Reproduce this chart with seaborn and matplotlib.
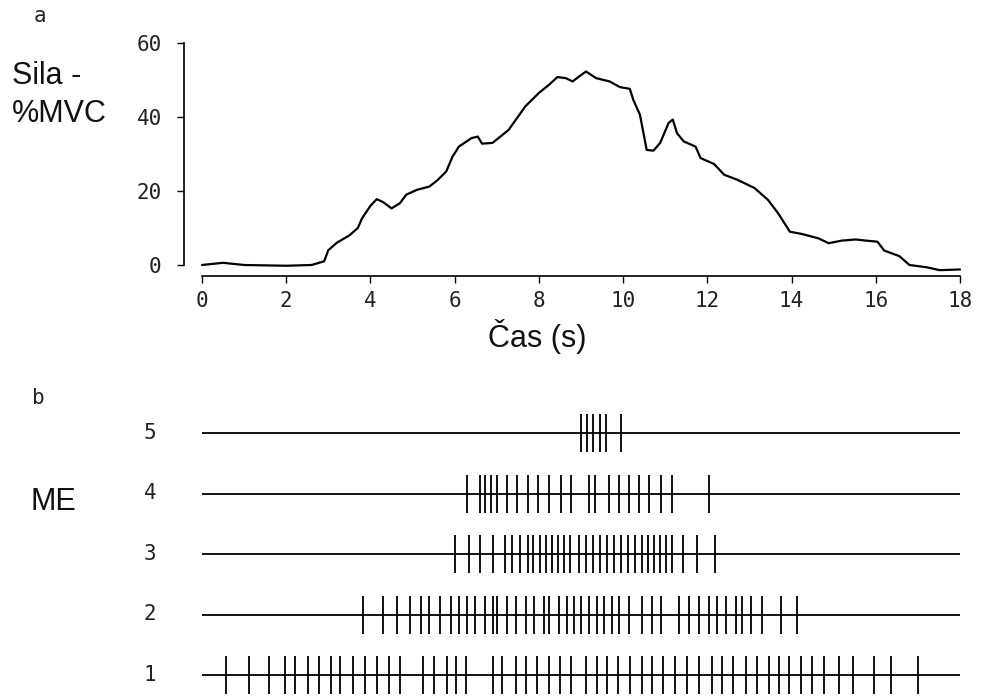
import matplotlib
matplotlib.use("Agg")
import matplotlib.pyplot as plt
import seaborn as sns
import pandas as pd

# sila (% MVC) v case, odecteno z krivky
force_time = [0, 0.5, 1.0, 2.0, 2.6, 2.9, 3.0, 3.2, 3.5, 3.7, 3.8, 4.0, 4.15, 4.3, 4.5,
              4.7, 4.85, 5.1, 5.4, 5.6, 5.8, 5.95, 6.1, 6.4, 6.55, 6.65, 6.9, 7.28, 7.68,
              8.0, 8.24, 8.44, 8.64, 8.8, 8.96, 9.12, 9.36, 9.68, 9.92, 10.16, 10.24, 10.4,
              10.56, 10.72, 10.88, 11.08, 11.18, 11.28, 11.44, 11.72, 11.84, 12.16, 12.4,
              12.72, 13.12, 13.44, 13.68, 13.96, 14.24, 14.64, 14.88, 15.2, 15.52, 15.76,
              16.04, 16.2, 16.56, 16.8, 17.2, 17.52, 18.0]
force_value = [0, 0.6, 0, -0.2, 0, 1, 4, 6, 8, 10, 12.6, 16, 17.8, 17, 15.3,
               16.7, 19, 20.3, 21.2, 23, 25.3, 29.3, 32, 34.3, 34.7, 32.8, 33, 36.5, 42.9,
               46.5, 48.7, 50.8, 50.5, 49.6, 51, 52.3, 50.5, 49.6, 48.1, 47.6, 44.7, 40.6,
               31.1, 30.9, 33, 38.4, 39.3, 35.6, 33.4, 32, 28.9, 27.3, 24.4,
               23, 20.8, 17.6, 14, 9, 8.4, 7.2, 5.9, 6.6, 6.9, 6.6,
               6.3, 3.9, 2.4, 0, -0.6, -1.4, -1.2]

# casy vyboju motorickych jednotek (s)
me1 = [0.57, 1.11, 1.59, 1.97, 2.20, 2.51, 2.77, 3.06, 3.27, 3.58, 3.86, 4.15, 4.43, 4.69,
       5.24, 5.50, 5.81, 6.04, 6.28, 6.90, 7.13, 7.46, 7.70, 7.96, 8.25, 8.51, 8.77, 9.12,
       9.38, 9.62, 9.88, 10.17, 10.45, 10.69, 10.95, 11.23, 11.52, 11.80, 12.11, 12.35,
       12.61, 12.91, 13.18, 13.46, 13.70, 13.93, 14.22, 14.48, 14.76, 15.12, 15.47, 15.95,
       16.37, 17.01]
me2 = [3.82, 4.29, 4.64, 4.93, 5.21, 5.40, 5.64, 5.92, 6.11, 6.30, 6.49, 6.71, 6.90, 7.01,
       7.25, 7.46, 7.70, 7.89, 8.13, 8.25, 8.48, 8.67, 8.84, 9.00, 9.19, 9.38, 9.55, 9.74,
       9.91, 10.14, 10.45, 10.69, 10.90, 11.33, 11.56, 11.80, 12.04, 12.23, 12.44, 12.68,
       12.82, 13.03, 13.29, 13.74, 14.12]
me3 = [6.00, 6.35, 6.61, 6.90, 7.20, 7.37, 7.54, 7.73, 7.87, 8.03, 8.18, 8.32, 8.46, 8.60,
       8.74, 8.96, 9.12, 9.29, 9.45, 9.62, 9.79, 9.95, 10.12, 10.28, 10.45, 10.59, 10.73,
       10.88, 11.02, 11.16, 11.42, 11.75, 12.18]
me4 = [6.30, 6.59, 6.73, 6.87, 7.01, 7.25, 7.49, 7.73, 7.99, 8.25, 8.53, 8.77, 9.19, 9.34,
       9.67, 9.91, 10.14, 10.38, 10.62, 10.90, 11.16, 12.04]
me5 = [9.00, 9.15, 9.29, 9.45, 9.60, 9.95]

units = [1, 2, 3, 4, 5]
x_ticks = [0, 2, 4, 6, 8, 10, 12, 14, 16, 18]
y_ticks = [0, 20, 40, 60]

W, H = 983, 698


def fx(px):
    return px / W


def fy(py):
    return 1 - py / H


sns.set_theme(style="ticks")
plt.rcParams['font.family'] = ['Liberation Sans', 'DejaVu Sans']
mono = 'DejaVu Sans Mono'

fig = plt.figure(figsize=(W / 100, H / 100), dpi=100)

# --- a: sila ---
ax_a = fig.add_axes([fx(202), fy(265), (960 - 202) / W, (265 - 43) / H])
sns.lineplot(x=force_time, y=force_value, ax=ax_a, color='black', lw=1.6, clip_on=False)
ax_a.set_xlim(0, 18)
ax_a.set_ylim(0, 60)
ax_a.set_xticks(x_ticks)
ax_a.set_yticks(y_ticks)
ax_a.spines[['top', 'right']].set_visible(False)
ax_a.spines['left'].set_position(('outward', 13))
ax_a.spines['bottom'].set_position(('outward', 8))
ax_a.spines['left'].set_bounds(0, 60)
ax_a.spines['bottom'].set_bounds(0, 18)
for s in ['left', 'bottom']:
    ax_a.spines[s].set_linewidth(1.2)
    ax_a.spines[s].set_color('black')
ax_a.tick_params(axis='both', direction='out', length=5, width=1, color='black',
                 labelsize=15, labelcolor='#222222', labelfontfamily=mono)
ax_a.tick_params(axis='y', pad=11)
ax_a.tick_params(axis='x', pad=6)
ax_a.set_xlabel('')
ax_a.set_ylabel('')

fig.text(fx(12), fy(76), 'Sila -', fontsize=22, ha='left', va='center', color='#111111')
fig.text(fx(12), fy(114), '%MVC', fontsize=22, ha='left', va='center', color='#111111')
fig.text(fx(537), fy(337), 'Čas (s)', fontsize=22, ha='center', va='center', color='#111111')
fig.text(fx(40), fy(16), 'a', fontsize=15, ha='center', va='center', family=mono, color='#222222')

# --- b: vyboje motorickych jednotek ---
spikes = pd.DataFrame({
    'time': me1 + me2 + me3 + me4 + me5,
    'unit': [1] * len(me1) + [2] * len(me2) + [3] * len(me3) + [4] * len(me4) + [5] * len(me5),
})

ax_b = fig.add_axes([fx(202), 0, (960 - 202) / W, fy(408.8)])
ax_b.set_xlim(0, 18)
ax_b.set_ylim(0.62, 5.4)
ax_b.hlines(units, -0.07, 18, color='black', lw=1.3)
sns.scatterplot(data=spikes, x='time', y='unit', marker='|', s=27 ** 2, color='#111111',
                linewidth=1.4, ax=ax_b, legend=False)
ax_b.set_axis_off()

row_px = {5: 433, 4: 493, 3: 554, 2: 614, 1: 675}
for u in units:
    fig.text(fx(150), fy(row_px[u]), str(u), fontsize=15, ha='center', va='center',
             family=mono, color='#222222')
fig.text(fx(53), fy(502), 'ME', fontsize=22, ha='center', va='center', color='#111111')
fig.text(fx(38), fy(398), 'b', fontsize=15, ha='center', va='center', family=mono, color='#222222')

fig.savefig('out.png', dpi=100)
